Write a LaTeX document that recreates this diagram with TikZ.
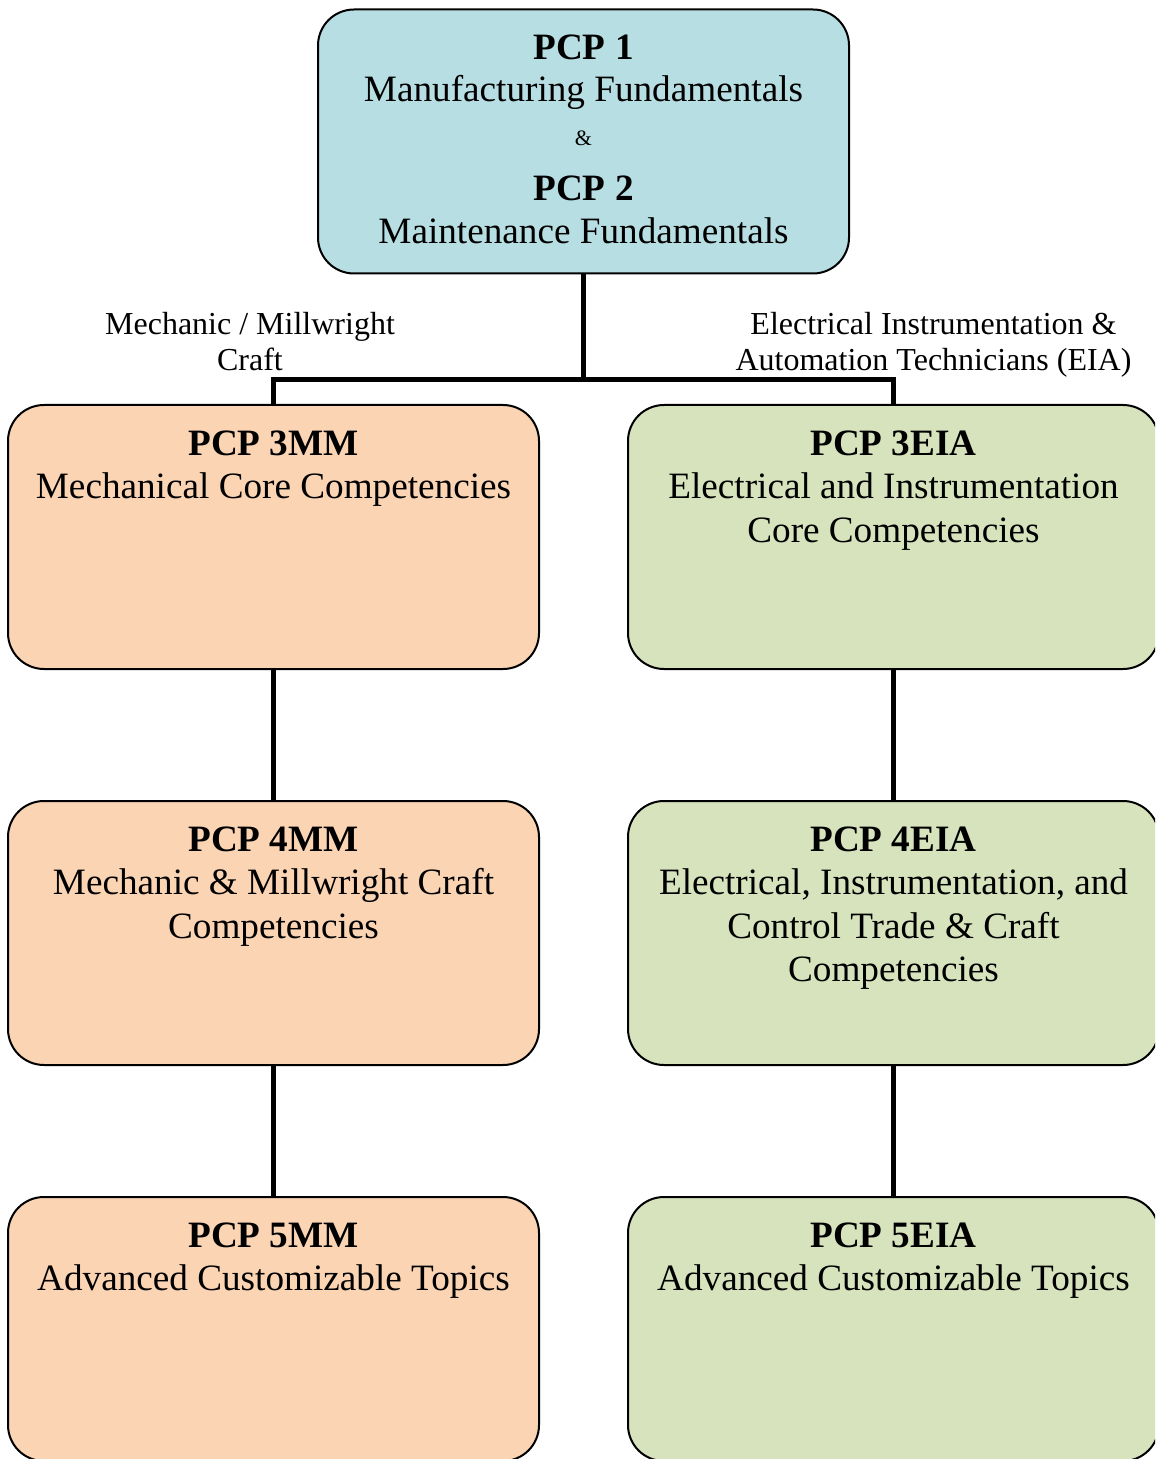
\documentclass[tikz,border=0pt]{standalone}
\usepackage{fontspec}
\setmainfont{Liberation Serif}
\definecolor{topfill}{RGB}{183,222,226}
\definecolor{mmfill}{RGB}{251,212,180}
\definecolor{eiafill}{RGB}{215,227,188}
\tikzset{
  box/.style={draw=black, line width=1pt, rounded corners=18pt, minimum width=265.5pt, minimum height=132pt, inner sep=0pt},
  boxtext/.style={anchor=north, inner sep=0pt, align=center, font=\fontsize{18.6}{21.7}\selectfont},
  line/.style={anchor=base, inner sep=0pt, font=\fontsize{18.6}{21.7}\selectfont},
  lbl/.style={anchor=north, inner sep=0pt, align=center, font=\fontsize{16}{18}\selectfont},
  conn/.style={line width=2.5pt, line join=miter}
}
\begin{document}
\begin{tikzpicture}[x=0.5pt,y=-0.5pt]
\clip (0,0) rectangle (1155,1459);
\fill[white] (0,0) rectangle (1155,1459);
% boxes
\node[box, fill=topfill] (top) at (583.5,141.5) {};
\node[box, fill=mmfill] (b3mm) at (273.5,537) {};
\node[box, fill=mmfill] (b4mm) at (273.5,933) {};
\node[box, fill=mmfill] (b5mm) at (273.5,1329) {};
\node[box, fill=eiafill] (b3eia) at (893.5,537) {};
\node[box, fill=eiafill] (b4eia) at (893.5,933) {};
\node[box, fill=eiafill] (b5eia) at (893.5,1329) {};
% connectors
\coordinate (j) at (583.5,380);
\draw[conn] (top.south) -- (j);
\draw[conn] (b3mm.north) |- (j) -| (b3eia.north);
\draw[conn] (b3mm) -- (b4mm);
\draw[conn] (b4mm) -- (b5mm);
\draw[conn] (b3eia) -- (b4eia);
\draw[conn] (b4eia) -- (b5eia);
% top box text
\node[line] (t1) at (583.5,59.5) {\textbf{PCP 1}};
\node[line] (t2) at (583.5,101.5) {Manufacturing Fundamentals};
\node[anchor=base, inner sep=0pt, font=\fontsize{11}{13}\selectfont] (t3) at (583.5,145.5) {\&};
\node[line] (t4) at (583.5,200.5) {\textbf{PCP 2}};
\node[line] (t5) at (583.5,243.5) {Maintenance Fundamentals};
% box texts
\node[boxtext] (x3mm) at (273.5,430.5) {\textbf{PCP 3MM}\\Mechanical Core Competencies};
\node[boxtext] (x4mm) at (273.5,826.5) {\textbf{PCP 4MM}\\Mechanic \& Millwright Craft\\Competencies};
\node[boxtext] (x5mm) at (273.5,1222.5) {\textbf{PCP 5MM}\\Advanced Customizable Topics};
\node[boxtext] (x3eia) at (893.5,430.5) {\textbf{PCP 3EIA}\\Electrical and Instrumentation\\Core Competencies};
\node[boxtext] (x4eia) at (893.5,826.5) {\textbf{PCP 4EIA}\\Electrical, Instrumentation, and\\Control Trade \& Craft\\Competencies};
\node[boxtext] (x5eia) at (893.5,1222.5) {\textbf{PCP 5EIA}\\Advanced Customizable Topics};
% branch labels
\node[lbl] (lmm) at (250,312) {Mechanic / Millwright\\Craft};
\node[lbl] (leia) at (933.5,312) {Electrical Instrumentation \&\\Automation Technicians (EIA)};
\end{tikzpicture}
\end{document}
